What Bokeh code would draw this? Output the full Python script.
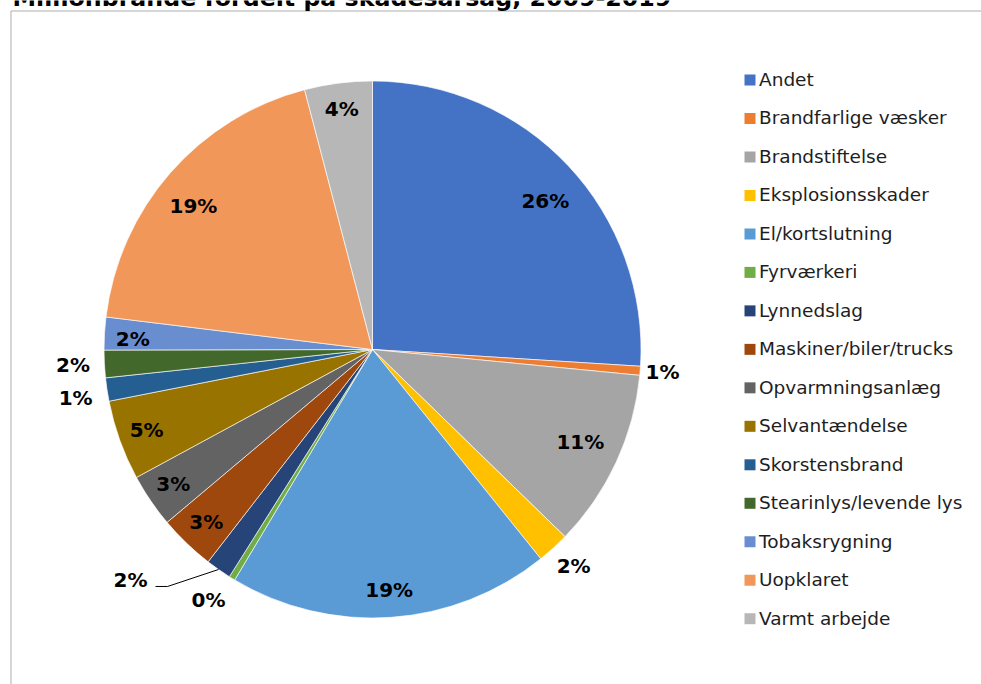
import math
from bokeh.plotting import figure
from bokeh.models import Range1d, ColumnDataSource
from bokeh.core.properties import value
from bokeh.embed import file_html
from bokeh.resources import INLINE

# ---------------- data ----------------
title_text = "Millionbrande fordelt på skadesårsag, 2009-2019"
categories = ["Andet", "Brandfarlige væsker", "Brandstiftelse", "Eksplosionsskader",
              "El/kortslutning", "Fyrværkeri", "Lynnedslag", "Maskiner/biler/trucks",
              "Opvarmningsanlæg", "Selvantændelse", "Skorstensbrand",
              "Stearinlys/levende lys", "Tobaksrygning", "Uopklaret", "Varmt arbejde"]
values = [26.0, 0.54, 10.74, 1.95, 19.36, 0.37, 1.54, 3.38, 3.23, 4.82, 1.40, 1.65, 1.97, 19.0, 4.07]
colors = ["#4472C4", "#ED7D31", "#A5A5A5", "#FFC000", "#5B9BD5", "#70AD47", "#264478",
          "#9E480E", "#636363", "#997300", "#255E91", "#43682B", "#698ED0", "#F1975A", "#B7B7B7"]

# ---------------- layout (not data) ----------------
W, H = 981, 684
def Y(ref_y):               # page y -> data y
    return H - ref_y

cx, cy, R = 372.0, Y(349.0), 268.5
label_mode = ["in", "out", "in", "out", "in", "out", "leader", "in", "in", "in",
              "out", "out", "in", "in", "in"]
label_dist = [227, 291, 228, 296, 242, 300, 268.5, 240, 241, 240, 301, 300, 240, 229, 241]
label_turn = [2.8, 0, -0.6, -0.5, 0, 1.6, 0, 0, 0, 0, -0.9, 0, -1.1, -2.6, 0]
leader_elbow = (-51, 17)
leader_end = (-63, 17)
leader_label = (-88, 12)

total = sum(values)
starts, ends, mids = [], [], []
acc = 0.0
for v in values:
    f0 = acc / total
    acc += v
    f1 = acc / total
    starts.append(math.pi / 2 - 2 * math.pi * f0)
    ends.append(math.pi / 2 - 2 * math.pi * f1)
    mids.append((f0 + f1) / 2 * 360.0)   # degrees clockwise from top

pct = [f"{int(v / total * 100 + 0.5)}%" for v in values]

p = figure(width=W, height=H, x_range=Range1d(0, W), y_range=Range1d(0, H),
           output_backend="svg", toolbar_location=None, min_border=0,
           outline_line_color=None, background_fill_color="white",
           border_fill_color="white")
p.axis.visible = False
p.grid.visible = False

# chart area border (top/left visible)
p.quad(left=[10.5], right=[3000], top=[Y(10.5)], bottom=[Y(3000)],
       fill_color=None, line_color="#ADADAD", line_width=1)

# title (cut at top like reference)
p.text(x=[12], y=[Y(-2.5)], text=[title_text], text_font=value("DejaVu Sans"),
       text_font_style="bold", text_font_size="23.7px", text_color="#000000",
       text_baseline="alphabetic", text_align="left")

src = ColumnDataSource(dict(cat=categories, start=starts, end=ends, color=colors))
p.wedge(x=cx, y=cy, radius=R, start_angle="start", end_angle="end",
        direction="clock", fill_color="color", line_color="white",
        line_width=0.8, line_alpha=0.8, source=src)

# data labels
lx, ly, lt = [], [], []
seg_x, seg_y = [], []
for i, m in enumerate(mids):
    if label_mode[i] == "leader":
        a = math.radians(m)
        ex, ey = cx + R * math.sin(a), cy + R * math.cos(a)
        seg_x.append([ex, ex + leader_elbow[0], ex + leader_end[0]])
        seg_y.append([ey, ey - leader_elbow[1], ey - leader_end[1]])
        lx.append(ex + leader_label[0])
        ly.append(ey - leader_label[1] + 1)
    else:
        a = math.radians(m + label_turn[i])
        lx.append(cx + label_dist[i] * math.sin(a))
        ly.append(cy + label_dist[i] * math.cos(a) + 1)
    lt.append(pct[i])

p.multi_line(xs=seg_x, ys=seg_y, line_color="black", line_width=1)
p.text(x=lx, y=ly, text=lt, text_font=value("DejaVu Sans"), text_font_style="bold",
       text_font_size="20px", text_color="black", text_align="center",
       text_baseline="middle")

# legend
leg_x_sq, leg_x_txt, leg_top, leg_pitch = 749.5, 758.5, 79.5, 38.48
leg_y = [Y(leg_top + i * leg_pitch) for i in range(len(categories))]
p.scatter(x=[leg_x_sq] * len(categories), y=leg_y, marker="square", size=11,
          fill_color=colors, line_color=None)
p.text(x=[leg_x_txt] * len(categories), y=[y + 0.5 for y in leg_y], text=categories,
       text_font=value("DejaVu Sans"), text_font_size="18.5px", text_color="#1E1E1E",
       text_align="left", text_baseline="middle")

open("out.html", "w").write(file_html(p, INLINE))
